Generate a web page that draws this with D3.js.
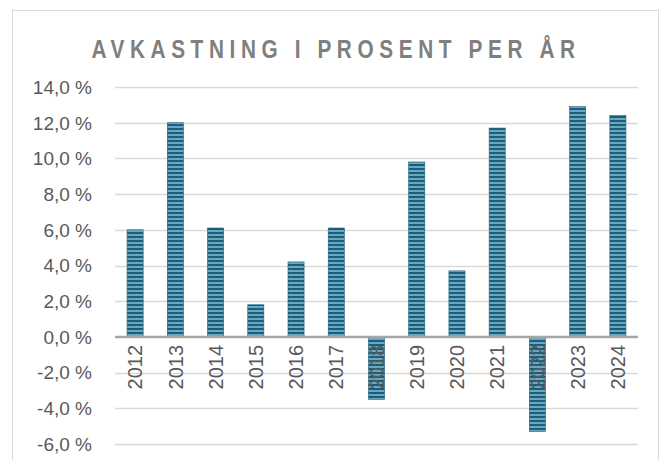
<!DOCTYPE html>
<html>
<head>
<meta charset="utf-8">
<script src="https://cdn.jsdelivr.net/npm/d3@7"></script>
<style>
  body { margin: 0; background: #fff; }
  svg { display: block; font-family: "Liberation Sans", Arial, sans-serif; }
</style>
</head>
<body>
<div id="chart"></div>
<script>
const years = ["2012", "2013", "2014", "2015", "2016", "2017", "2018", "2019", "2020", "2021", "2022", "2023", "2024"];
const returns = [6.0, 12.0, 6.1, 1.8, 4.2, 6.1, -3.5, 9.8, 3.7, 11.7, -5.3, 12.9, 12.4];
const yTicks = [-6, -4, -2, 0, 2, 4, 6, 8, 10, 12, 14];

const width = 662;
const height = 460;
const margin = { left: 115, right: 24, top: 87, bottom: 16 };

const svg = d3.select("#chart")
    .append("svg")
    .attr("width", width)
    .attr("height", height);

// striped fill like the excel pattern
const defs = svg.append("defs");
const pat = defs.append("pattern")
    .attr("id", "stripes")
    .attr("patternUnits", "userSpaceOnUse")
    .attr("width", 8)
    .attr("height", 4);
pat.append("rect").attr("width", 8).attr("height", 4).attr("fill", "#6aa8c0");
pat.append("rect").attr("width", 8).attr("height", 2).attr("fill", "#1b5e7b");

// outer chart border
svg.append("rect")
    .attr("x", 12.5)
    .attr("y", 10.5)
    .attr("width", 646)
    .attr("height", 470)
    .attr("fill", "none")
    .attr("stroke", "#d9d9d9")
    .attr("stroke-width", 1);

// title, squeezed horizontally to look like a condensed face
svg.append("text")
    .attr("transform", "translate(336, 58) scale(0.8, 1)")
    .attr("text-anchor", "middle")
    .attr("fill", "#7f7f7f")
    .attr("font-size", "26px")
    .attr("font-weight", "bold")
    .attr("letter-spacing", "7px")
    .text("AVKASTNING I PROSENT PER ÅR");

const x = d3.scaleBand()
    .domain(years)
    .range([margin.left, width - margin.right])
    .paddingInner(0.6)
    .paddingOuter(0.3);

const y = d3.scaleLinear()
    .domain([-6, 14])
    .range([444, 87]);

// gridlines
svg.append("g")
    .selectAll("line")
    .data(yTicks.filter(d => d !== 0))
    .join("line")
    .attr("x1", margin.left)
    .attr("x2", width - margin.right)
    .attr("y1", d => Math.round(y(d)) + 0.5)
    .attr("y2", d => Math.round(y(d)) + 0.5)
    .attr("stroke", "#d9d9d9")
    .attr("stroke-width", 1.3);

// y tick labels
svg.append("g")
    .selectAll("text")
    .data(yTicks)
    .join("text")
    .attr("x", 92)
    .attr("y", d => y(d))
    .attr("dy", "0.36em")
    .attr("text-anchor", "end")
    .attr("fill", "#595959")
    .attr("font-size", "19px")
    .text(d => d.toFixed(1).replace(".", ",") + " %");

// bars
svg.append("g")
    .selectAll("rect")
    .data(returns)
    .join("rect")
    .attr("x", (d, i) => x(years[i]))
    .attr("width", x.bandwidth())
    .attr("y", d => y(Math.max(0, d)))
    .attr("height", d => Math.abs(y(d) - y(0)))
    .attr("fill", "url(#stripes)")
    .attr("stroke", "#1b5e7b")
    .attr("stroke-width", 0.6);

// zero line
svg.append("line")
    .attr("x1", margin.left)
    .attr("x2", width - margin.right)
    .attr("y1", y(0))
    .attr("y2", y(0))
    .attr("stroke", "#a6a6a6")
    .attr("stroke-width", 2.5);

// category labels, rotated
svg.append("g")
    .selectAll("text")
    .data(years)
    .join("text")
    .attr("transform", d => `translate(${x(d) + x.bandwidth() / 2}, ${y(0) + 8}) rotate(-90)`)
    .attr("dy", "0.36em")
    .attr("text-anchor", "end")
    .attr("fill", "#595959")
    .attr("font-size", "20px")
    .text(d => d);
</script>
</body>
</html>
